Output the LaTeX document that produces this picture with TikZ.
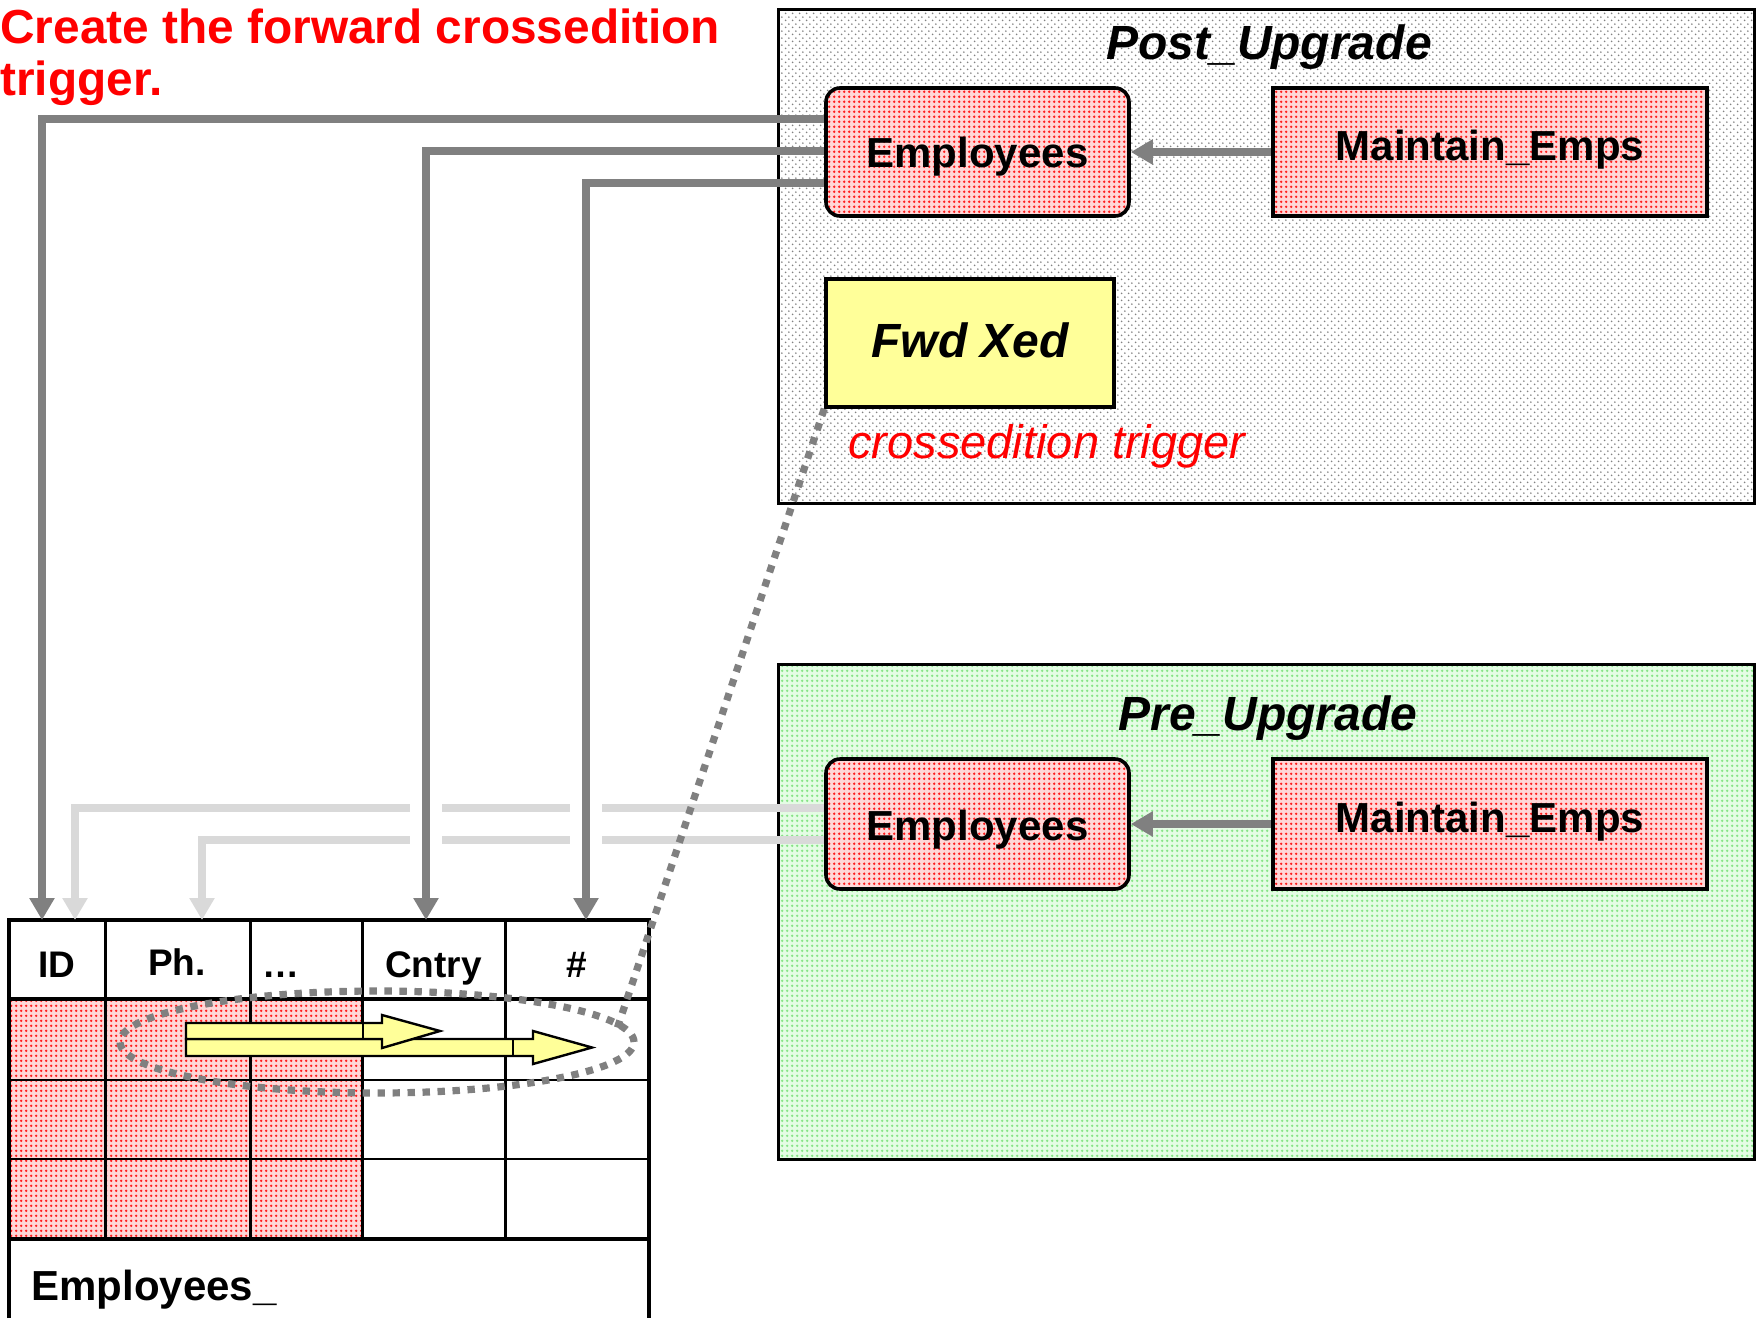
\documentclass[tikz,border=0pt]{standalone}
\usepackage{fontspec}
\setmainfont{Liberation Sans}
\usetikzlibrary{arrows.meta,patterns,calc,shapes.geometric}

\definecolor{dgray}{RGB}{128,128,128}
\definecolor{lgray}{RGB}{217,217,217}
\definecolor{pyellow}{RGB}{255,255,153}
\definecolor{pinkbase}{RGB}{255,215,215}
\definecolor{dotred}{RGB}{255,30,30}
\definecolor{greenbase}{RGB}{228,252,228}
\definecolor{dotgreen}{RGB}{135,228,135}
\definecolor{dotgray}{RGB}{130,130,130}

\pgfdeclarepatternformonly{rdots}{\pgfqpoint{0pt}{0pt}}{\pgfqpoint{2.35pt}{2.35pt}}{\pgfqpoint{2.35pt}{2.35pt}}{\pgfpathcircle{\pgfqpoint{1.175pt}{1.175pt}}{0.7pt}\pgfusepath{fill}}
\pgfdeclarepatternformonly{gdots}{\pgfqpoint{0pt}{0pt}}{\pgfqpoint{3.6pt}{3.6pt}}{\pgfqpoint{3.6pt}{3.6pt}}{\pgfpathcircle{\pgfqpoint{0.9pt}{0.9pt}}{0.5pt}\pgfpathcircle{\pgfqpoint{2.7pt}{2.7pt}}{0.5pt}\pgfusepath{fill}}

\tikzset{
  redbox/.style={preaction={fill=pinkbase}, preaction={pattern=rdots, pattern color=dotred},
    draw=black, line width=1.8pt, inner sep=0pt, minimum height=64pt,
    font=\fontsize{21}{25}\selectfont\bfseries},
  empbox/.style={redbox, rounded corners=7pt, minimum width=151.5pt},
  maintbox/.style={redbox, minimum width=217pt, text height=12pt, text depth=4pt},
  graybg/.style={preaction={fill=white}, preaction={pattern=gdots, pattern color=dotgray},
    draw=black, line width=1.5pt, inner sep=0pt, minimum width=488pt},
  greenbg/.style={preaction={fill=greenbase}, preaction={pattern=rdots, pattern color=dotgreen},
    draw=black, line width=1.5pt, inner sep=0pt, minimum width=488pt},
  fwdbox/.style={fill=pyellow, draw=black, line width=1.8pt, inner sep=0pt,
    minimum width=144pt, minimum height=64pt, text height=14pt, text depth=0pt,
    font=\fontsize{24}{28}\selectfont\bfseries\itshape},
  edtitle/.style={anchor=base, inner sep=0pt, font=\fontsize{24}{28}\selectfont\bfseries\itshape},
  hdr/.style={anchor=base, inner sep=0pt, font=\fontsize{18.5}{22}\selectfont\bfseries},
  dconn/.style={draw=dgray, line width=3.9pt, -{Triangle[length=11pt,width=12pt]}},
  lconn/.style={draw=lgray, line width=3.9pt, -{Triangle[length=11pt,width=12pt]}},
  dotline/.style={draw=dgray, line width=3.6pt, dash pattern=on 3.7pt off 3.8pt},
  yarrow/.style={fill=pyellow, draw=black, line width=1.2pt, line join=miter},
  thick grid/.style={line width=1.8pt},
  thin grid/.style={line width=1pt},
  mid grid/.style={line width=1.5pt}
}

\begin{document}
\begin{tikzpicture}[x=0.5pt, y=-0.5pt]
\useasboundingbox (0,0) rectangle (1762,1318);

% edition boxes
\node[graybg, minimum height=247pt] (post) at (1266,256) {};
\node[greenbg, minimum height=247.5pt] (pre) at (1266,911.5) {};
\node[edtitle] (postT) at (1269,59) {Post\_Upgrade};
\node[edtitle] (preT) at (1268,730) {Pre\_Upgrade};

% heading (base anchor sits on the last line)
\node[anchor=base west, inner sep=0pt, text=red, align=left,
      font=\fontsize{23.9}{26}\selectfont\bfseries] (title) at (0,95)
      {Create the forward crossedition\\trigger.};

% table
\fill[pinkbase] (9,999) rectangle (362,1239);
\fill[pattern=rdots, pattern color=dotred] (9,999) rectangle (362,1239);
\draw[thin grid] (9,1080) -- (649,1080) (9,1159) -- (649,1159);
\draw[mid grid] (105,920) -- (105,1239) (250,920) -- (250,1239)
                (362,920) -- (362,1239) (505,920) -- (505,1239);
\draw[thick grid] (9,1318) -- (9,920) -- (649,920) -- (649,1318);
\draw[thick grid] (9,999) -- (649,999) (9,1239) -- (649,1239);

\node[hdr] (hID) at (57,977) {ID};
\node[hdr] (hPh) at (177,975) {Ph.};
\node[hdr, anchor=base west] (hDots) at (262,977) {…};
\node[hdr] (hCntry) at (433.5,977) {Cntry};
\node[hdr] (hHash) at (577,977) {\#};
\node[anchor=base west, inner sep=0pt, font=\fontsize{21}{25}\selectfont\bfseries] (tname) at (31,1300) {Employees\_};

% yellow block arrows
\draw[yarrow] (186,1039) -- (533,1039) -- (533,1031) -- (592,1047.5) -- (533,1064) -- (533,1056) -- (186,1056) -- cycle;
\draw[line width=1.2pt] (513,1039) -- (513,1056);
\draw[yarrow] (186,1023) -- (382,1023) -- (382,1015) -- (440,1031) -- (382,1048) -- (382,1039) -- (186,1039) -- cycle;
\draw[line width=1.2pt] (363,1023) -- (363,1039);

% dotted oval
\node[ellipse, dotline, minimum width=257pt, minimum height=51pt, inner sep=0pt] (oval) at (377,1042) {};

% inner boxes
\node[empbox, text height=15pt, text depth=0pt] (empPost) at (977.5,152) {Employees};
\node[maintbox] (mainPost) at (1490,152) {Maintain\_Emps};
\node[empbox, minimum height=65pt, text height=16pt, text depth=0pt] (empPre) at (977.5,824) {Employees};
\node[maintbox, minimum height=65pt] (mainPre) at (1490,824) {Maintain\_Emps};
\node[fwdbox] (fwd) at (970,343) {Fwd Xed};
\node[anchor=base west, inner sep=0pt, text=red, font=\fontsize{23.5}{27}\selectfont\itshape] (xedlbl) at (848,458) {crossedition trigger};

% connector end points on the table head
\coordinate (inID) at (42,920);
\coordinate (inCn) at (426,920);
\coordinate (inHs) at (586,920);
\coordinate (inID2) at (75,920);
\coordinate (inPh) at (202,920);
\coordinate (dotEnd) at (616,1032);

% light connectors (pre edition)
\draw[lconn] ($(empPre.west)+(0,-16)$) -| (inID2);
\draw[lconn] ($(empPre.west)+(0,16)$) -| (inPh);
\draw[white, line width=5pt] (410,808) -- (442,808) (570,808) -- (602,808)
                             (410,840) -- (442,840) (570,840) -- (602,840);

% dark connectors (post edition)
\draw[dconn] ($(empPost.west)+(0,-33)$) -| (inID);
\draw[dconn] ($(empPost.west)+(0,-1)$) -| (inCn);
\draw[dconn] ($(empPost.west)+(0,31)$) -| (inHs);
\draw[dconn] (mainPost.west) -- (empPost.east);
\draw[dconn] (mainPre.west) -- (empPre.east);

% dotted callout
\draw[dotline] (fwd.south west) -- (dotEnd);
\end{tikzpicture}
\end{document}
